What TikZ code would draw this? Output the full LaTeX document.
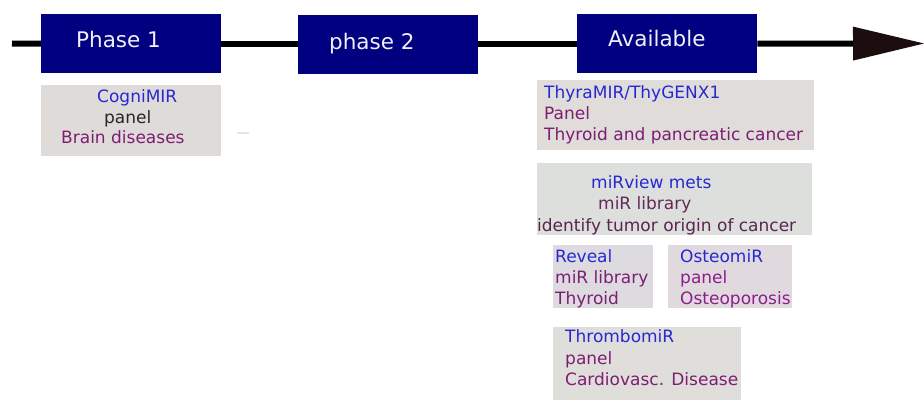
\documentclass[tikz,border=0pt]{standalone}
\usepackage{fontspec}
\setmainfont{DejaVu Sans}
\usetikzlibrary{arrows.meta}
\definecolor{phasenavy}{RGB}{0,0,128}
\definecolor{tipdark}{RGB}{28,14,14}
\definecolor{mirblue}{RGB}{40,40,210}
\definecolor{mirpurple}{RGB}{125,30,115}
\definecolor{mirplum}{RGB}{100,40,90}
\definecolor{osteopurple}{RGB}{140,30,140}
\definecolor{cogngray}{RGB}{222,219,217}
\definecolor{thyrgray}{RGB}{223,220,217}
\definecolor{viewgray}{RGB}{220,223,220}
\definecolor{revgray}{RGB}{221,219,224}
\definecolor{ostgray}{RGB}{224,218,222}
\definecolor{thrgray}{RGB}{223,222,219}
\tikzset{
  phasebox/.style={fill=phasenavy, minimum width=180pt, minimum height=59pt, inner sep=0pt, anchor=north west},
  phaselabel/.style={text={rgb,255:red,240;green,240;blue,248}, font=\fontsize{21.5}{26}\selectfont, inner sep=0pt, anchor=base west},
  card/.style={inner sep=0pt, anchor=north west},
  cardtext/.style={inner sep=0pt, anchor=north west, align=left, font=\fontsize{17}{21}\selectfont},
}
\begin{document}
\begin{tikzpicture}[x=1pt,y=-1pt]
        \useasboundingbox (0,0) rectangle (924,401);
        %%%
        \node[phasebox] (ph1) at (41,14) {};
        \node[phasebox] (ph2) at (298,15) {};
        \node[phasebox] (avail) at (577,14) {};
        \node[phaselabel] (ph1-txt) at (76,48) {Phase 1};
        \node[phaselabel] (ph2-txt) at (329,50) {phase 2};
        \node[phaselabel] (avail-txt) at (608,47) {Available};
        %%%
        \coordinate (start) at (12,43.5);
        \coordinate (tip) at (924,43.5);
        \draw[line width=6pt] (start) -- (ph1.west);
        \draw[line width=6pt] (ph1.east) -- (ph2.west |- ph1.east);
        \draw[line width=6pt] (ph2.east |- avail.west) -- (avail.west);
        \draw[line width=6pt,-{Triangle[length=71pt,width=34pt,line width=0pt,color=tipdark]}] (avail.east) -- (tip);
        %%%
        \node[card,fill=cogngray,minimum width=180pt,minimum height=71pt] (cogni) at (41,85) {};
        \node[cardtext] (cogni-txt) at (61,89.5) {\hspace*{36pt}\textcolor{mirblue}{CogniMIR}\\[-0.5pt]
            \hspace*{43pt}\textcolor{black!85}{panel}\\[-0.5pt]
            \textcolor{mirpurple}{Brain diseases}};
        \draw[black!10,line width=1.5pt] (237,133) -- (249,133);
        %%%
        \node[card,fill=thyrgray,minimum width=277pt,minimum height=70pt] (thyra) at (537,80) {};
        \node[cardtext] (thyra-txt) at (544,85) {\textcolor{mirblue}{ThyraMIR/ThyGENX1}\\
            \textcolor{mirpurple}{Panel}\\
            \textcolor{mirpurple}{Thyroid and pancreatic cancer}};
        %%%
        \node[card,fill=viewgray,minimum width=275pt,minimum height=72pt] (mirview) at (537,163) {};
        \node[cardtext] (mirview-txt) at (537,175) {\hspace*{54pt}\textcolor{mirblue}{miRview mets}\\[0.5pt]
            \hspace*{61pt}\textcolor{mirplum}{miR library}\\[0.5pt]
            \textcolor{mirplum!90!black}{identify tumor origin of cancer}};
        %%%
        \node[card,fill=revgray,minimum width=100pt,minimum height=63pt] (reveal) at (553,245) {};
        \node[cardtext] (reveal-txt) at (555,249) {\textcolor{mirblue}{Reveal}\\
            \textcolor{mirpurple}{miR library}\\
            \textcolor{mirpurple}{Thyroid}};
        %%%
        \node[card,fill=ostgray,minimum width=124pt,minimum height=63pt] (osteo) at (668,245) {};
        \node[cardtext] (osteo-txt) at (680,249) {\textcolor{mirblue}{OsteomiR}\\
            \textcolor{osteopurple}{panel}\\
            \textcolor{osteopurple}{Osteoporosis}};
        %%%
        \node[card,fill=thrgray,minimum width=188pt,minimum height=73pt] (thrombo) at (553,327) {};
        \node[cardtext] (thrombo-txt) at (565,329) {\textcolor{mirblue}{ThrombomiR}\\[1pt]
            \textcolor{mirpurple}{panel}\\
            \textcolor{mirpurple}{Cardiovasc. Disease}};
        %%%
    \end{tikzpicture}
\end{document}
